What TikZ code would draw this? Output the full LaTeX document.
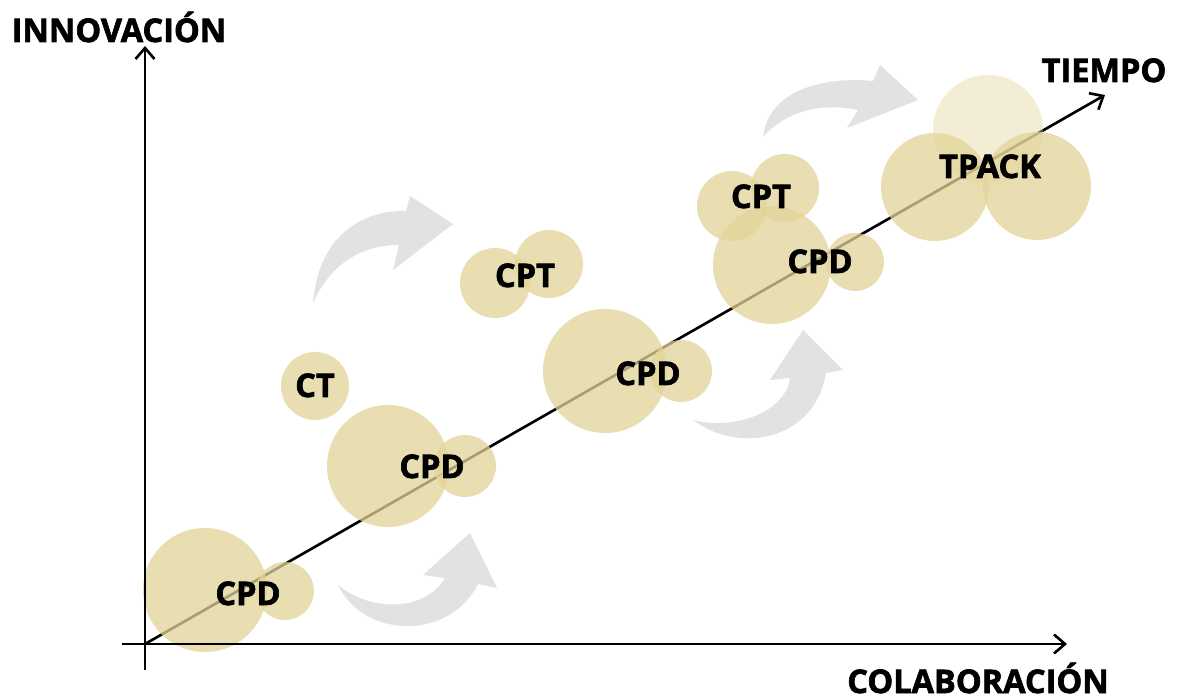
\documentclass[tikz,border=0pt]{standalone}
\usepackage{fontspec}
\setmainfont{Open Sans}[BoldFeatures={FakeBold=2}]
\usetikzlibrary{arrows.meta}
\definecolor{beige}{RGB}{226,212,152}
\definecolor{arrowgray}{RGB}{226,226,226}
\tikzset{
  blob/.style={fill=beige, fill opacity=0.75, draw=none},
  paleblob/.style={fill=beige, fill opacity=0.4, draw=none},
  lbl/.style={font=\fontsize{18.5}{20}\selectfont\bfseries, anchor=base, inner sep=0pt, text=black},
  axis/.style={line width=1.5pt, -{Straight Barb[length=2.2mm,width=3.8mm]}},
  plain/.style={line width=1.5pt},
  grayarrow/.style={fill=arrowgray, draw=none}
}
\begin{document}
\begin{tikzpicture}[x=0.02cm,y=-0.02cm]
\useasboundingbox[fill=white] (0,0) rectangle (1181,699);
% coordinates
\coordinate (O) at (145,644);
\coordinate (Ytop) at (145,46);
\coordinate (Ybot) at (145,670);
\coordinate (Xleft) at (122,644);
\coordinate (Xtip) at (1067,644);
\coordinate (Ttip) at (1105,95);
% gray curved arrows
\fill[grayarrow] (338,585) .. controls (365,640) and (450,640) .. (478,584) -- (497,588) -- (470,533) -- (423,575) -- (445,578) .. controls (425,612) and (370,612) .. (338,585) -- cycle;
\fill[grayarrow] (313,303) .. controls (318,238) and (360,210) .. (406,211) -- (410,196) -- (453,224) -- (393,270) -- (399,245) .. controls (360,245) and (330,265) .. (313,303) -- cycle;
\fill[grayarrow] (763,137) .. controls (768,92) and (820,76) .. (873,81) -- (880,65) -- (918,100) -- (847,128) -- (858,110) .. controls (820,102) and (785,112) .. (763,137) -- cycle;
\fill[grayarrow] (693,420) .. controls (740,455) and (815,440) .. (826,373) -- (843,370) -- (803,330) -- (770,380) -- (790,378) .. controls (785,415) and (730,430) .. (693,420) -- cycle;
% time line
\draw[axis] (O) -- (Ttip);
% circles
\fill[blob] (205,590) circle[radius=62];
\fill[blob] (285,591) circle[radius=29];
\fill[blob] (388,466) circle[radius=61];
\fill[blob] (465,466) circle[radius=31];
\fill[blob] (315,386) circle[radius=34];
\fill[blob] (605,371) circle[radius=62];
\fill[blob] (681,371) circle[radius=31];
\fill[blob] (495,283) circle[radius=35];
\fill[blob] (549,264) circle[radius=34];
\fill[blob] (772,265) circle[radius=59];
\fill[blob] (855,262) circle[radius=29];
\fill[blob] (732,206) circle[radius=35];
\fill[blob] (785,188) circle[radius=34];
\fill[paleblob] (988,130) circle[radius=55];
\fill[blob] (935,187) circle[radius=54];
\fill[blob] (1037,186) circle[radius=54];
% axes
\draw[plain] (Ybot) -- (O);
\draw[axis] (O) -- (Ytop);
\draw[plain] (Xleft) -- (O);
\draw[axis] (O) -- (Xtip);
% labels
\node[lbl] (innov) at (119,42) {INNOVACIÓN};
\node[lbl] (tiempo) at (1104,82) {TIEMPO};
\node[lbl] (colab) at (978,693) {COLABORACIÓN};
\node[lbl] (cpd1) at (248,605) {CPD};
\node[lbl] (cpd2) at (432,478) {CPD};
\node[lbl] (ct) at (315,397) {CT};
\node[lbl] (cpd3) at (648,385) {CPD};
\node[lbl] (cpt1) at (525,287) {CPT};
\node[lbl] (cpd4) at (820,273) {CPD};
\node[lbl] (cpt2) at (761,208) {CPT};
\node[lbl] (tpack) at (990,178) {TPACK};
\end{tikzpicture}
\end{document}
